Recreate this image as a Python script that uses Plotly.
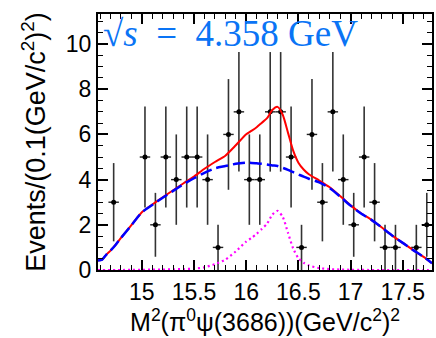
import numpy as np
import plotly.graph_objects as go

# ---- data ----
bin_centers = [14.63 + 0.1 * k for k in range(32)]
counts = [0, 3, 0, 0, 5, 2, 5, 4, 5, 5, 4, 1, 6, 7, 4, 4,
          7, 7, 5, 1, 6, 3, 7, 4, 2, 5, 3, 1, 1, 0, 1, 2]

curve_x = [14.58, 14.62, 14.66, 14.70, 14.75, 14.80, 14.90, 15.00, 15.10, 15.20,
           15.30, 15.40, 15.50, 15.60, 15.70, 15.80, 15.90, 16.00, 16.05, 16.10,
           16.15, 16.20, 16.25, 16.30, 16.35, 16.40, 16.45, 16.50, 16.55, 16.60,
           16.70, 16.80, 16.90, 17.00, 17.10, 17.20, 17.30, 17.40, 17.50, 17.60,
           17.70, 17.78]
background = [0.42, 0.46, 0.68, 0.86, 1.12, 1.42, 1.98, 2.55, 2.88, 3.20,
              3.50, 3.80, 4.06, 4.30, 4.50, 4.60, 4.70, 4.75, 4.74, 4.72,
              4.70, 4.67, 4.63, 4.60, 4.52, 4.43, 4.33, 4.23, 4.13, 4.04,
              3.88, 3.62, 3.25, 2.85, 2.50, 2.22, 1.88, 1.52, 1.20, 0.88,
              0.58, 0.30]
signal = [0.0, 0.0, 0.0, 0.0, 0.0, 0.0, 0.005, 0.01, 0.015, 0.02,
          0.03, 0.04, 0.06, 0.12, 0.26, 0.46, 0.82, 1.26, 1.42, 1.60,
          1.82, 2.05, 2.45, 2.62, 2.35, 1.65, 0.95, 0.52, 0.32, 0.20,
          0.08, 0.04, 0.02, 0.01, 0.005, 0.0, 0.0, 0.0, 0.0, 0.0,
          0.0, 0.0]
total = [0.42, 0.46, 0.68, 0.86, 1.12, 1.42, 1.99, 2.56, 2.90, 3.22,
         3.53, 3.84, 4.14, 4.48, 4.78, 5.06, 5.52, 6.01, 6.16, 6.32,
         6.52, 6.72, 7.08, 7.22, 6.87, 6.08, 5.28, 4.75, 4.45, 4.24,
         3.96, 3.66, 3.27, 2.86, 2.51, 2.22, 1.88, 1.52, 1.20, 0.88,
         0.58, 0.30]

x_ticks = [15, 15.5, 16, 16.5, 17, 17.5]
x_ticklabels = ["15", "15.5", "16", "16.5", "17", "17.5"]
y_ticks = [0, 2, 4, 6, 8, 10]
y_ticklabels = ["0", "2", "4", "6", "8", "10"]

x_range = [14.58, 17.78]
y_range = [0, 11.33]

# ---- figure ----
pts_x = [x for x, c in zip(bin_centers, counts) if c > 0]
pts_y = [c for c in counts if c > 0]
pts_err = [float(np.sqrt(c)) for c in pts_y]

fig = go.Figure()

fig.add_trace(go.Scatter(
    x=pts_x, y=pts_y, mode="markers",
    marker=dict(color="black", size=5),
    error_y=dict(type="data", array=pts_err, visible=True, color="#333333",
                 thickness=1.6, width=0),
    error_x=dict(type="constant", value=0.05, visible=True, color="#222222",
                 thickness=1.4, width=0),
    showlegend=False, cliponaxis=True))

fig.add_trace(go.Scatter(x=curve_x, y=total, mode="lines",
                         line=dict(color="#ff0000", width=2, shape="spline", smoothing=0.6),
                         showlegend=False))
fig.add_trace(go.Scatter(x=curve_x, y=background, mode="lines",
                         line=dict(color="#0000ff", width=2.5, dash="12px,5px",
                                   shape="spline", smoothing=0.6),
                         showlegend=False))
fig.add_trace(go.Scatter(x=curve_x, y=signal, mode="lines",
                         line=dict(color="#ff00ff", width=2.2, dash="2px,3px",
                                   shape="spline", smoothing=0.6),
                         showlegend=False))

axis_common = dict(
    showline=True, linecolor="black", linewidth=2, mirror="ticks",
    ticks="inside", ticklen=10, tickwidth=1.5, tickcolor="black",
    showgrid=False, zeroline=False,
    tickfont=dict(family="Liberation Sans, Arial, sans-serif", size=23, color="black"),
)

fig.update_layout(
    width=436, height=338,
    margin=dict(l=98, r=2, t=14, b=68),
    paper_bgcolor="white", plot_bgcolor="white",
    xaxis=dict(axis_common, range=x_range, tickvals=x_ticks, ticktext=x_ticklabels,
               minor=dict(dtick=0.1, tick0=15, ticks="inside", ticklen=5,
                          tickwidth=1.2, tickcolor="black"),
               title=dict(text="M<sup>2</sup>(π<sup>0</sup>ψ(3686))(GeV/c<sup>2</sup>)<sup>2</sup>",
                          font=dict(family="Liberation Sans, Arial, sans-serif", size=25, color="black"),
                          standoff=4)),
    yaxis=dict(axis_common, range=y_range, tickvals=y_ticks, ticktext=y_ticklabels,
               minor=dict(dtick=0.5, tick0=0, ticks="inside", ticklen=5,
                          tickwidth=1.2, tickcolor="black"),
               title=dict(text="Events/(0.1(GeV/c<sup>2</sup>)<sup>2</sup>)",
                          font=dict(family="Liberation Sans, Arial, sans-serif", size=27, color="black"),
                          standoff=12)),
    annotations=[dict(
        xref="paper", yref="paper", x=0.01, y=1.01, xanchor="left", yanchor="top",
        text="√<i>s</i>\u2002=\u20024.358 GeV", showarrow=False,
        font=dict(family="Liberation Serif, DejaVu Serif, serif", size=37, color="#0a74f5"))],
)

fig.write_html("out.html")
